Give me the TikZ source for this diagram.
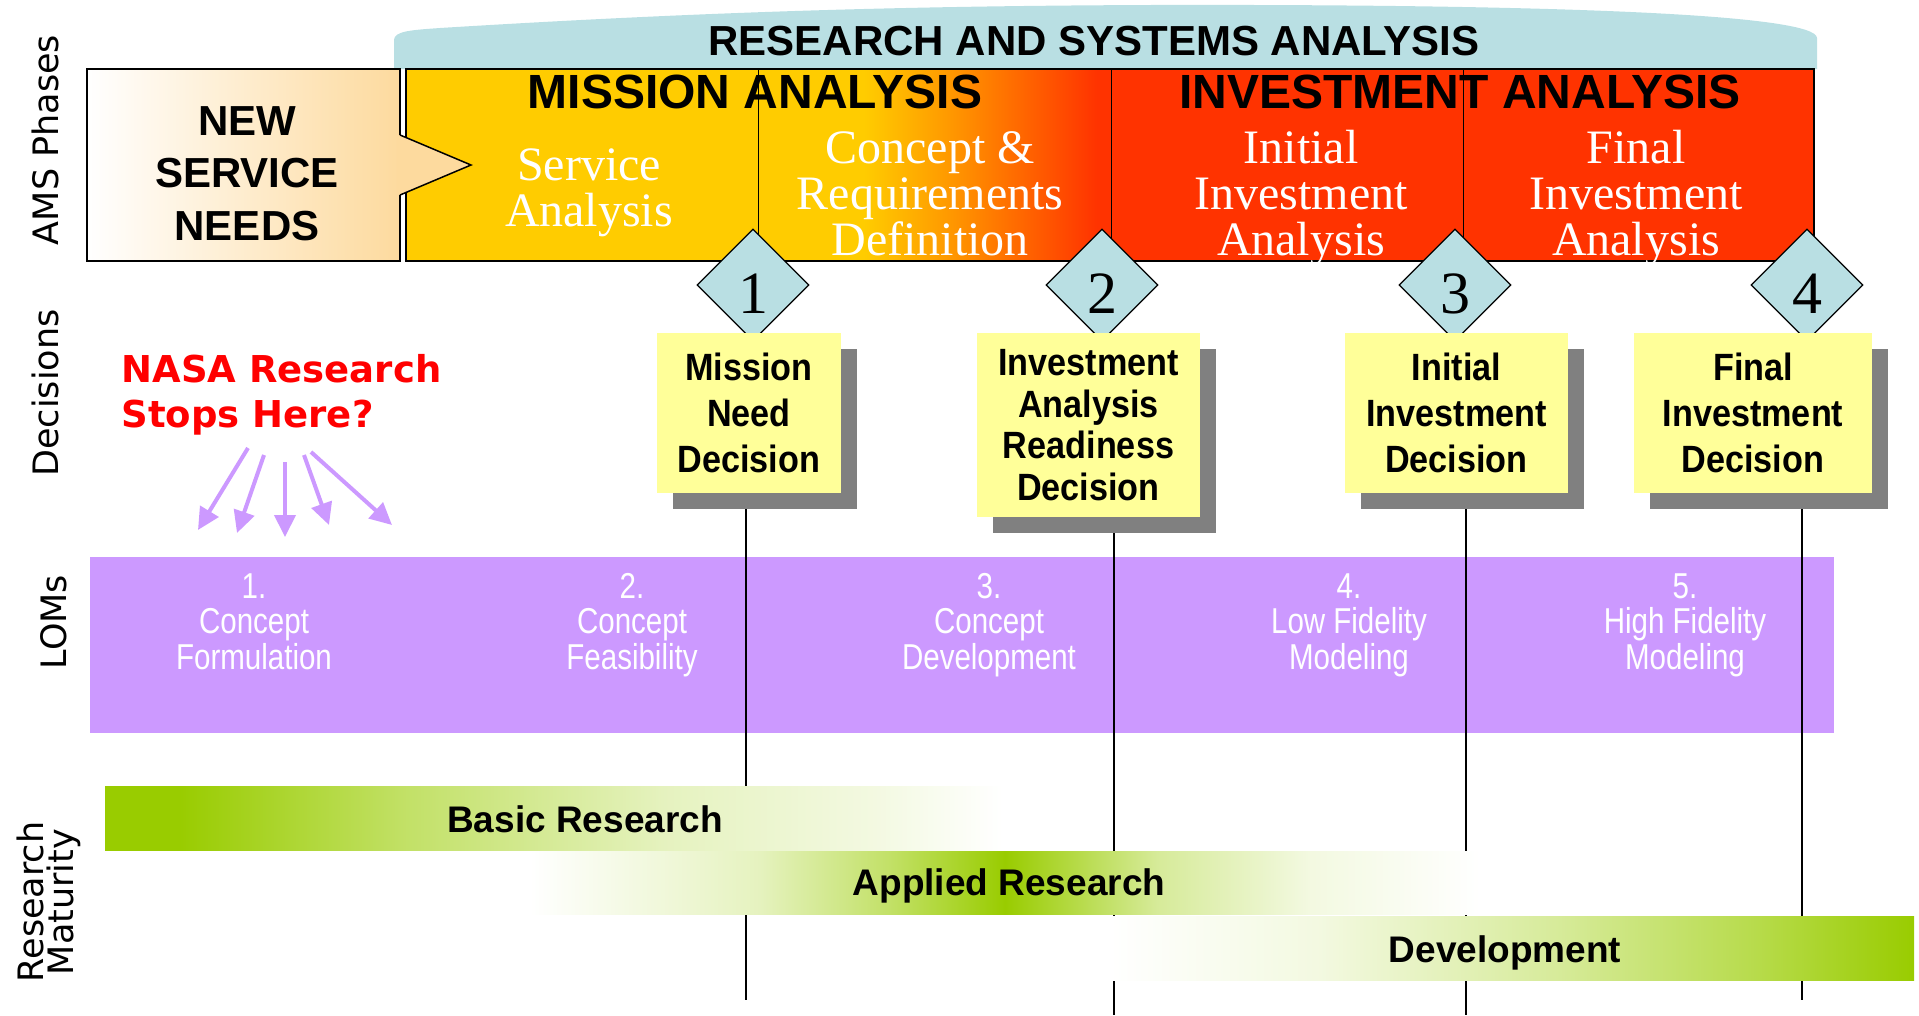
\documentclass[tikz,border=0pt]{standalone}
\usepackage{fontspec}
\setmainfont{Liberation Serif}
\newfontfamily\headfont{Liberation Sans}
\newfontfamily\narrowfont{Liberation Sans}[FakeStretch=0.9]
\newfontfamily\lomfont{Liberation Sans}[FakeStretch=0.82]
\newfontfamily\sidefont{DejaVu Sans}
\usetikzlibrary{shapes.geometric,arrows.meta,shadows,backgrounds}

\definecolor{bannerteal}{HTML}{B9DFE3}
\definecolor{needpeach}{HTML}{FDDA9E}
\definecolor{missionyellow}{HTML}{FFCC00}
\definecolor{midorange}{HTML}{FF9900}
\definecolor{investred}{HTML}{FF3300}
\definecolor{decyellow}{HTML}{FFFF99}
\definecolor{shadowgray}{HTML}{808080}
\definecolor{lomviolet}{HTML}{CC99FF}
\definecolor{maturegreen}{HTML}{99CC00}
\colorlet{greenA}{maturegreen!60!white}
\colorlet{greenB}{maturegreen!40!white}
\colorlet{greenC}{maturegreen!25!white}
\colorlet{greenD}{maturegreen!12!white}
\colorlet{greenE}{maturegreen!70!white}

% fades used by the phase box and the maturity bars
\pgfdeclarehorizontalshading{conceptfade}{100bp}{color(0bp)=(missionyellow); color(25bp)=(missionyellow); color(40bp)=(missionyellow); color(52bp)=(midorange); color(73bp)=(investred); color(100bp)=(investred)}
\pgfdeclarehorizontalshading{basicfade}{100bp}{color(0bp)=(maturegreen); color(29bp)=(maturegreen); color(41bp)=(greenA); color(55bp)=(greenC); color(66bp)=(greenD); color(73bp)=(white); color(100bp)=(white)}
\pgfdeclarehorizontalshading{appliedfade}{100bp}{color(0bp)=(white); color(25bp)=(white); color(37bp)=(greenC); color(44bp)=(greenA); color(50bp)=(maturegreen); color(58bp)=(greenB); color(66bp)=(greenD); color(75bp)=(white); color(100bp)=(white)}
\pgfdeclarehorizontalshading{devfade}{100bp}{color(0bp)=(white); color(25bp)=(white); color(38bp)=(greenD); color(53bp)=(greenB); color(65bp)=(greenE); color(75bp)=(maturegreen); color(100bp)=(maturegreen)}

\begin{document}
\begin{tikzpicture}[x=1pt, y=-1pt,
    headtext/.style={anchor=base, font=\headfont\bfseries\fontsize{48}{50}\selectfont},
    phasetext/.style={text=white, align=center, anchor=base, font=\fontsize{48}{46}\selectfont},
    sidelabel/.style={rotate=90, font=\sidefont\fontsize{35}{30}\selectfont},
    milestone/.style={diamond, draw=black, line width=1.3pt, fill=bannerteal,
      minimum width=112pt, minimum height=112pt, inner sep=0pt},
    mileno/.style={font=\fontsize{60}{60}\selectfont},
    decbox/.style={fill=decyellow, align=center, inner sep=0pt,
      font=\narrowfont\bfseries\fontsize{38}{46}\selectfont,
      drop shadow={shadow xshift=16pt, shadow yshift=-16pt, fill=shadowgray, opacity=1}},
    lomtext/.style={text=white, align=center, anchor=base, font=\lomfont\fontsize{36}{35.5}\selectfont},
    decline/.style={line width=1.3pt},
    stoparrow/.style={draw=lomviolet, line width=4pt, -{Triangle[length=22pt, width=21pt]}},
    bartext/.style={anchor=base, font=\headfont\bfseries\fontsize{37}{40}\selectfont}]
  \useasboundingbox (0,0) rectangle (1919,1015);

  % Banner over the analysis phases
  \fill[bannerteal] (394,69) -- (394,40) .. controls (394,31) and (412,30) .. (440,28)
    .. controls (700,12) and (900,6) .. (1150,5) .. controls (1550,4) and (1817,14) .. (1817,38)
    -- (1817,69) -- cycle;
  \node[headtext, font=\headfont\bfseries\fontsize{42}{44}\selectfont] (rsa) at (1094,55) {RESEARCH AND SYSTEMS ANALYSIS};

  % AMS phases
  \fill[missionyellow] (406,69) rectangle (758,261);
  \shade[shading=conceptfade] (758,69) rectangle (1111,261);
  \fill[investred] (1111,69) rectangle (1814,261);
  \draw[line width=1pt] (758,69) -- (758,261) (1111,69) -- (1111,261) (1463,69) -- (1463,261);
  \draw[line width=1.5pt] (406,69) rectangle (1814,261);

  % New service needs, with its pointer into the first phase
  \shade[left color=white, right color=needpeach] (87,69) rectangle (400,261);
  \draw[line width=1.5pt] (400,135) -- (400,69) -- (87,69) -- (87,261) -- (400,261) -- (400,195);
  \fill[needpeach] (397,136) -- (400,135) -- (471,165) -- (400,195) -- (397,194) -- cycle;
  \draw[line width=1.5pt] (400,135) -- (471,165) -- (400,195);
  % (base of a multi-line node is its last line)
  \node[headtext, align=center, font=\headfont\bfseries\fontsize{42}{52.5}\selectfont] (needs) at (247,240) {NEW\\SERVICE\\NEEDS};

  \node[headtext] (mission) at (755,108) {MISSION ANALYSIS};
  \node[headtext] (invest) at (1460,108) {INVESTMENT ANALYSIS};
  \node[phasetext] (service) at (589,226) {Service\\Analysis};
  \node[phasetext] (concept) at (930,255) {Concept \&\\Requirements\\Definition};
  \node[phasetext] (initial) at (1301,255) {Initial\\Investment\\Analysis};
  \node[phasetext] (final) at (1636,255) {Final\\Investment\\Analysis};

  % Decision points
  \foreach \m/\x in {1/753, 2/1102, 3/1455, 4/1807} {
    \node[milestone] (m\m) at (\x,285) {};
    \node[mileno] (n\m) at ([yshift=-9pt]m\m.center) {\m};
  }

  \node[decbox, minimum width=184pt, minimum height=160pt] (needdec) at (749,413) {Mission\\Need\\Decision};
  \node[decbox, minimum width=223pt, minimum height=184pt, font=\narrowfont\bfseries\fontsize{38}{41.5}\selectfont] (readydec) at (1088.5,425) {Investment\\Analysis\\Readiness\\Decision};
  \node[decbox, minimum width=223pt, minimum height=160pt] (initdec) at (1456.5,413) {Initial\\Investment\\Decision};
  \node[decbox, minimum width=238pt, minimum height=160pt] (finaldec) at (1753,413) {Final\\Investment\\Decision};

  \node[anchor=base west, align=left, text=red, font=\sidefont\bfseries\fontsize{37}{45}\selectfont] (nasa) at (118,427) {NASA Research\\Stops Here?};
  \foreach \i/\sx/\sy/\ex/\ey in {1/248/448/198/530, 2/264/455/237/533, 3/285/462/285/537, 4/304/455/329/525, 5/311/452/392/525} {
    \coordinate (tail\i) at (\sx,\sy);
    \coordinate (tip\i) at (\ex,\ey);
    \draw[stoparrow] (tail\i) -- (tip\i);
  }

  % Levels of modeling
  \coordinate (end1) at (746,1000);
  \coordinate (end2) at (1114,1015);
  \coordinate (end3) at (1466,1015);
  \coordinate (end4) at (1802,1000);
  \begin{pgfonlayer}{background}
    \fill[lomviolet] (90,557) rectangle (1834,733);
    \foreach \d/\e in {needdec/end1, readydec/end2, initdec/end3, finaldec/end4}
      \draw[decline] (\d.south -| \e) -- (\e);
  \end{pgfonlayer}
  \node[lomtext] (lom1) at (254,669) {1.\\Concept\\Formulation};
  \node[lomtext] (lom2) at (632,669) {2.\\Concept\\Feasibility};
  \node[lomtext] (lom3) at (989,669) {3.\\Concept\\Development};
  \node[lomtext] (lom4) at (1349,669) {4.\\Low Fidelity\\Modeling};
  \node[lomtext] (lom5) at (1685,669) {5.\\High Fidelity\\Modeling};

  % Research maturity bars
  \shade[shading=basicfade] (105,786) rectangle (1040,850);
  \shade[shading=appliedfade] (530,851) rectangle (1480,914);
  \shade[shading=devfade] (1110,916) rectangle (1914,980);
  \node[bartext] (basic) at (585,832) {Basic Research};
  \node[bartext] (applied) at (1009,895) {Applied Research};
  \node[bartext] (devel) at (1505,962) {Development};

  % Row labels
  \node[sidelabel, anchor=base] (amsrow) at (58,140) {AMS Phases};
  \node[sidelabel, anchor=base] (decrow) at (58,393) {Decisions};
  \node[sidelabel, anchor=base] (lomrow) at (66,622) {LOMs};
  \node[sidelabel, align=center] (matrow) at (49,902) {Research\\Maturity};
\end{tikzpicture}
\end{document}
